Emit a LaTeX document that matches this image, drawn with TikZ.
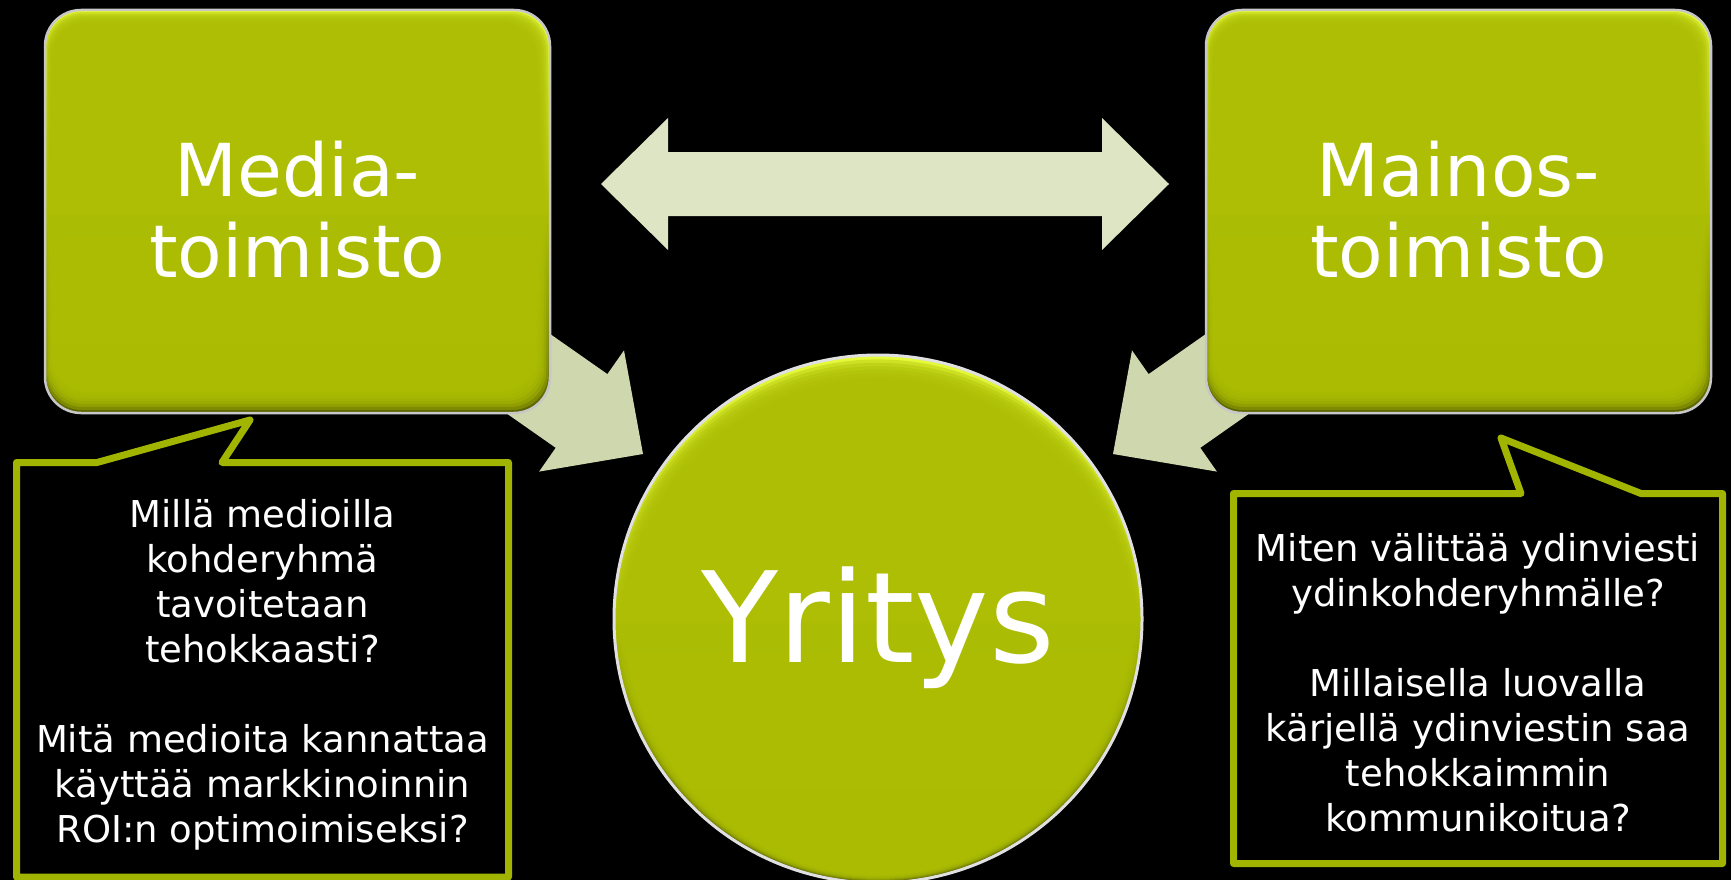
\documentclass[tikz,border=0pt]{standalone}
\usepackage{fontspec}
\setmainfont{DejaVu Sans}
\definecolor{olv}{RGB}{173,190,4}
\definecolor{olvhl}{RGB}{230,250,60}
\definecolor{olvdk}{RGB}{90,100,0}
\definecolor{callc}{RGB}{160,180,0}
\definecolor{arrA}{RGB}{222,229,196}
\definecolor{arrB}{RGB}{207,215,174}
\tikzset{
  rim/.style={draw=white!78!black, line width=2.5pt},
  callout/.style={draw=callc, fill=black, line width=7pt, line join=round},
  boxtext/.style={text=white, inner sep=0pt, align=center, font=\fontsize{73}{81}\selectfont},
  calltext/.style={text=white, inner sep=0pt, align=center, font=\fontsize{37}{45}\selectfont},
  bigtext/.style={text=white, inner sep=0pt, anchor=base, font=\fontsize{126}{150}\selectfont},
}
\begin{document}
\begin{tikzpicture}[x=1pt,y=-1pt]
\fill[black] (0,0) rectangle (1731,880);
\useasboundingbox (0,0) rectangle (1731,880);

% double arrow
\fill[arrA] (601,184) -- (668,118) -- (668,152) -- (1102,152) -- (1102,118) -- (1169,184)
  -- (1102,250) -- (1102,216) -- (668,216) -- (668,250) -- cycle;

% diagonal arrows
\fill[arrB] (643,454) -- (624,350.4) -- (607.4,374.1) -- (488.6,290.9) -- (437,364.7)
  -- (555.7,447.8) -- (539.1,471.6) -- cycle;
\fill[arrB] (1113,454) -- (1132,350.4) -- (1148.6,374.1) -- (1267.4,290.9) -- (1319,364.7)
  -- (1200.3,447.8) -- (1216.9,471.6) -- cycle;

% glossy boxes
\foreach \xa/\xb in {45/550, 1206/1711} {
  \shade[top color=olvhl, bottom color=olvdk, middle color=olv, rounded corners=36pt]
    (\xa,10) rectangle (\xb,413);
  \foreach \k in {1,...,7}
    \fill[olv, fill opacity=0.4, rounded corners=36pt]
      (\xa+1.0*\k, 10+1.9*\k) rectangle (\xb-2.0*\k, 413-3.0*\k);
  \draw[rim, rounded corners=36pt] (\xa,10) rectangle (\xb,413);
}

% glossy circle
\shade[top color=olvhl, bottom color=olvdk, middle color=olv] (878,619) circle [radius=263pt];
\foreach \k in {1,...,7}
  \fill[olv, fill opacity=0.4] (878,619+1.2*\k) circle [radius={263pt-2.2pt*\k}];
\draw[white!88!black, line width=3pt] (878,619) circle [radius=264pt];

% callouts
\draw[callout] (16.5,462.5) -- (97,462.5) -- (250,420) -- (222,462.5) -- (508.5,462.5)
  -- (508.5,877) -- (16.5,877) -- cycle;
\draw[callout] (1233.5,493.5) -- (1521,493.5) -- (1501,438) -- (1641,493.5) -- (1722.5,493.5)
  -- (1722.5,863.5) -- (1233.5,863.5) -- cycle;

% texts
\node[boxtext] (media) at (297.5,216.5) {\rule{0pt}{60pt}Media-\\toimisto\rule[-20pt]{0pt}{20pt}};
\node[boxtext] (mainos) at (1458.5,216.5) {\rule{0pt}{60pt}Mainos-\\toimisto\rule[-20pt]{0pt}{20pt}};
\node[bigtext] (yritys) at (878,662) {Yritys};
\node[calltext] (q1) at (262.5,674.5) {\rule{0pt}{30pt}Millä medioilla\\kohderyhmä\\tavoitetaan\\tehokkaasti?\\[45pt]Mitä medioita kannattaa\\käyttää markkinoinnin\\ROI:n optimoimiseksi?\rule[-10pt]{0pt}{10pt}};
\node[calltext] (q2) at (1478,686.5) {\rule{0pt}{30pt}Miten välittää ydinviesti\\ydinkohderyhmälle?\\[45pt]Millaisella luovalla\\kärjellä ydinviestin saa\\tehokkaimmin\\kommunikoitua?\rule[-10pt]{0pt}{10pt}};
\end{tikzpicture}
\end{document}
